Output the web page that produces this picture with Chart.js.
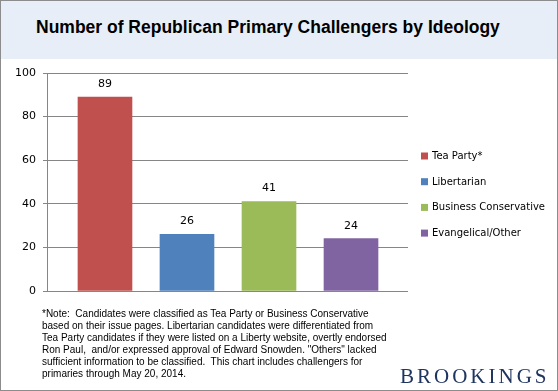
<!DOCTYPE html>
<html>
<head>
<meta charset="utf-8">
<script src="https://cdn.jsdelivr.net/npm/chart.js@4"></script>
<style>
  html, body { margin: 0; padding: 0; background: #fff; }
  #wrap { position: relative; width: 558px; height: 391px; overflow: hidden; }
  #frame { position: absolute; left: 0; top: 0; width: 556px; height: 389px; border: 1px solid #8c8c8c; }
  #header { position: absolute; left: 1px; top: 1px; width: 556px; height: 58px; background: #e8eef8; }
  #title { position: absolute; left: 36px; top: 17px; font: bold 17.5px "Liberation Sans", Arial, sans-serif; color: #000; white-space: nowrap; }
  #note { position: absolute; left: 42px; top: 308px; font: 10px "Liberation Sans", Arial, sans-serif; line-height: 11.9px; color: #000; white-space: nowrap; }
  #logo { position: absolute; left: 400px; top: 364px; font: 21px "Liberation Serif", "Times New Roman", serif; color: #1f3560; letter-spacing: 3px; }
  canvas { position: absolute; left: 0; top: 0; }
</style>
</head>
<body>
<div id="wrap">
  <div id="header"></div>
  <div id="title">Number of Republican Primary Challengers by Ideology</div>
  <canvas id="myChart" width="558" height="391"></canvas>
  <div id="note">*Note:&nbsp; Candidates were classified as Tea Party or Business Conservative<br>based on their issue pages. Libertarian candidates were differentiated from<br>Tea Party candidates if they were listed on a Liberty website, overtly endorsed<br>Ron Paul,&nbsp; and/or expressed approval of Edward Snowden. "Others" lacked<br>sufficient information to be classified.&nbsp; This chart includes challengers for<br>primaries through May 20, 2014.</div>
  <div id="logo">BROOKINGS</div>
  <div id="frame"></div>
</div>
<script>
const categories = ["Tea Party*", "Libertarian", "Business Conservative", "Evangelical/Other"];
const counts = [89, 26, 41, 24];
const colors = ["#c0504d", "#4f81bd", "#9bbb59", "#8064a2"];
const yTicks = [0, 20, 40, 60, 80, 100];

// value labels above each bar
const barLabels = {
  id: "barLabels",
  afterDatasetsDraw(chart) {
    const ctx = chart.ctx;
    const meta = chart.getDatasetMeta(0);
    ctx.save();
    ctx.font = '11px "DejaVu Sans", Verdana, sans-serif';
    ctx.fillStyle = "#000";
    ctx.textAlign = "center";
    ctx.textBaseline = "middle";
    meta.data.forEach((bar, i) => {
      ctx.fillText(counts[i], bar.x, bar.y - 13);
    });
    ctx.restore();
  }
};

// legend on the right, like the excel one
const sideLegend = {
  id: "sideLegend",
  afterDraw(chart) {
    const ctx = chart.ctx;
    const x = chart.chartArea.right + 13;
    ctx.save();
    ctx.font = '10px "DejaVu Sans", Verdana, sans-serif';
    ctx.textBaseline = "middle";
    categories.forEach((name, i) => {
      const y = 156 + i * 25.7;
      ctx.fillStyle = colors[i];
      ctx.fillRect(x, y - 3.5, 7, 7);
      ctx.fillStyle = "#000";
      ctx.fillText(name, x + 11, y + 0.5);
    });
    ctx.restore();
  }
};

const ctx = document.getElementById("myChart").getContext("2d");
const myChart = new Chart(ctx, {
  type: "bar",
  data: {
    datasets: [
      {
        data: counts.map((v, i) => ({ x: i, y: v })),
        backgroundColor: colors,
        borderWidth: 0,
        barThickness: 54,
      },
    ],
  },
  options: {
    responsive: false,
    animation: false,
    layout: { padding: { top: 73, right: 150, bottom: 100, left: 0 } },
    plugins: {
      legend: { display: false },
      tooltip: { enabled: false },
    },
    scales: {
      x: {
        type: "linear",
        display: false,
        offset: false,
        min: -0.707,
        max: 3.695,
      },
      y: {
        min: 0,
        max: 100,
        afterFit: (s) => { s.width = 47; },
        afterBuildTicks: (s) => { s.ticks = yTicks.map((v) => ({ value: v })); },
        border: { display: true, color: "#868686", width: 1 },
        grid: { color: "#868686", lineWidth: 1, tickLength: 4, drawTicks: true },
        ticks: {
          padding: 7,
          color: "#000",
          font: { family: '"DejaVu Sans", Verdana, sans-serif', size: 11 },
        },
      },
    },
  },
  plugins: [barLabels, sideLegend],
});
</script>
</body>
</html>
